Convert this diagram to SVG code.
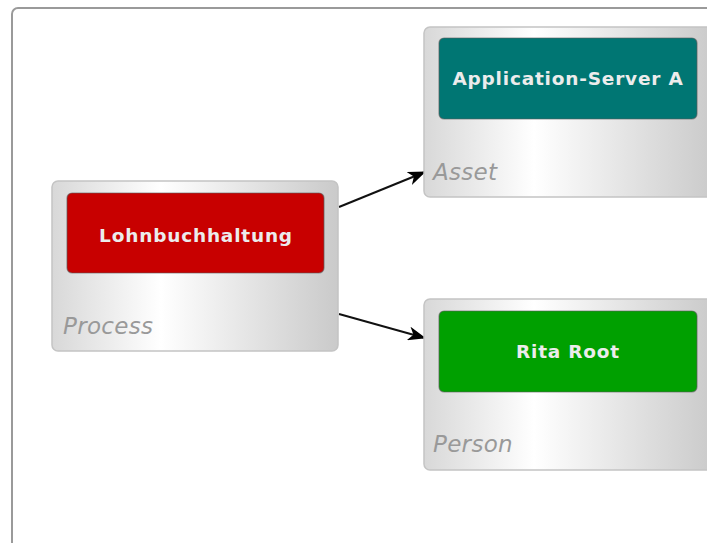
<svg xmlns="http://www.w3.org/2000/svg" width="707" height="543" viewBox="0 0 707 543">
<defs>
<linearGradient id="g" x1="0" y1="0" x2="1" y2="0">
<stop offset="0" stop-color="#d8d8d8"/>
<stop offset="0.38" stop-color="#ffffff"/>
<stop offset="1" stop-color="#cacaca"/>
</linearGradient>
<marker id="ah" markerWidth="18" markerHeight="14" refX="17" refY="7" orient="auto" markerUnits="userSpaceOnUse">
<path d="M0,0 L18,7 L0,14 L5,7 Z" fill="#000"/>
</marker>
<style>
.outer{fill:#fff;stroke:#9a9a9a;stroke-width:2}
.box{fill:url(#g);stroke:#c4c4c4;stroke-width:1.5}
.inner{stroke:#5a5a5a;stroke-width:1.2;stroke-opacity:0.6}
.name{font-family:"DejaVu Sans",sans-serif;font-weight:bold;font-size:18.5px;fill:#ececec;text-anchor:middle;letter-spacing:0.8px}
.type{font-family:"DejaVu Sans",sans-serif;font-style:italic;font-size:23px;fill:#999;letter-spacing:0.3px}
.conn{stroke:#111;stroke-width:2;fill:none;marker-end:url(#ah)}
</style>
</defs>
<rect class="outer" x="12" y="8" width="710" height="545" rx="6"/>
<g id="connectors">
<line class="conn" x1="339" y1="207" x2="425" y2="172"/>
<line class="conn" x1="339" y1="314" x2="425" y2="338"/>
</g>
<g id="process">
<rect class="box" x="52" y="181" width="286" height="170" rx="6"/>
<rect class="inner" x="67" y="193" width="257" height="80" rx="5" fill="#c80000"/>
<text class="name" x="196" y="242">Lohnbuchhaltung</text>
<text class="type" x="63" y="334">Process</text>
</g>
<g id="asset">
<rect class="box" x="424" y="27" width="290" height="170" rx="6"/>
<rect class="inner" x="439" y="38" width="258" height="81" rx="5" fill="#007673"/>
<text class="name" x="568" y="85">Application-Server A</text>
<text class="type" x="433" y="180">Asset</text>
</g>
<g id="person">
<rect class="box" x="424" y="299" width="290" height="171" rx="6"/>
<rect class="inner" x="439" y="311" width="258" height="81" rx="5" fill="#00a000"/>
<text class="name" x="568" y="358">Rita Root</text>
<text class="type" x="433" y="452">Person</text>
</g>
</svg>
